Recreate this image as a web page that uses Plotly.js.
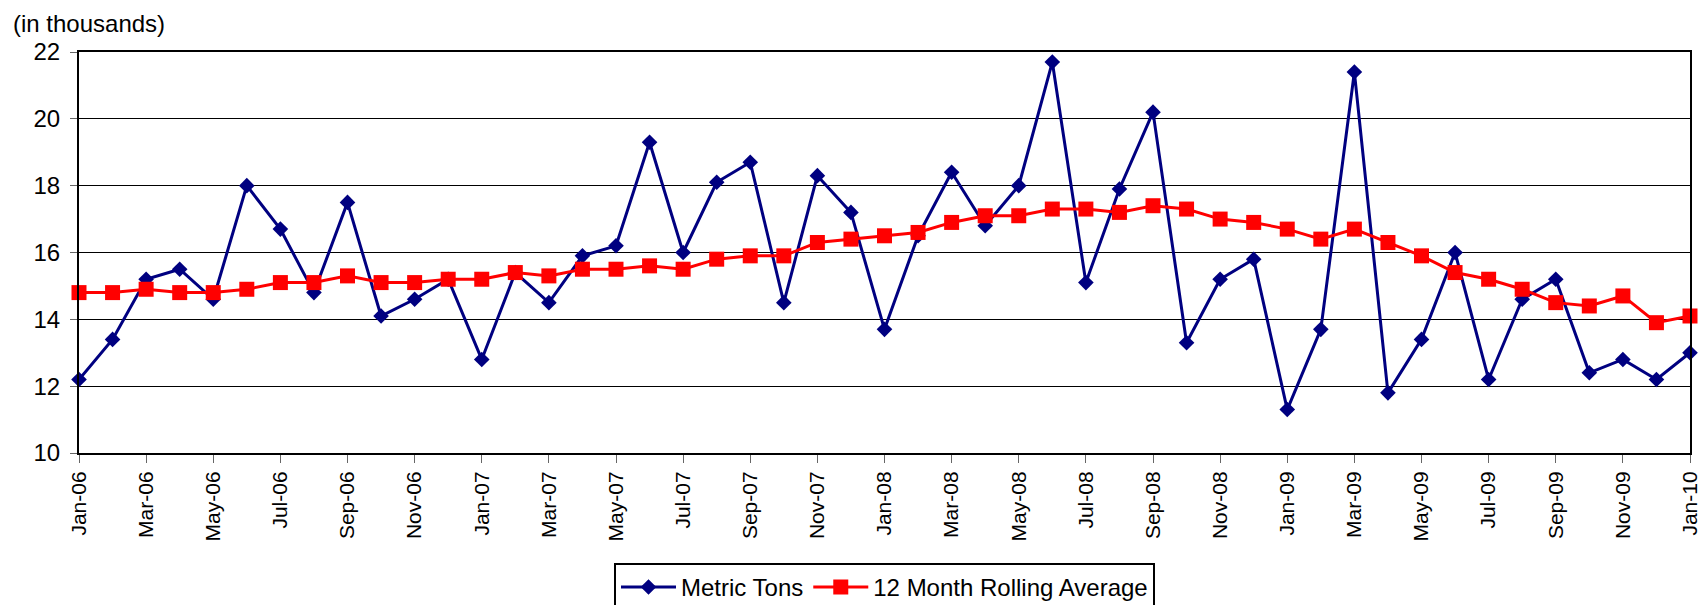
<!DOCTYPE html>
<html>
<head>
<meta charset="utf-8">
<script src="https://cdn.plot.ly/plotly-3.0.1.min.js"></script>
<style>
  html, body { margin: 0; padding: 0; background: #fff; }
  #chart { width: 1700px; height: 605px; }
</style>
</head>
<body>
<div id="chart"></div>
<script>
// Monthly labels, Jan-06 through Jan-10
const months = [
  "Jan-06","Feb-06","Mar-06","Apr-06","May-06","Jun-06","Jul-06","Aug-06","Sep-06","Oct-06","Nov-06","Dec-06",
  "Jan-07","Feb-07","Mar-07","Apr-07","May-07","Jun-07","Jul-07","Aug-07","Sep-07","Oct-07","Nov-07","Dec-07",
  "Jan-08","Feb-08","Mar-08","Apr-08","May-08","Jun-08","Jul-08","Aug-08","Sep-08","Oct-08","Nov-08","Dec-08",
  "Jan-09","Feb-09","Mar-09","Apr-09","May-09","Jun-09","Jul-09","Aug-09","Sep-09","Oct-09","Nov-09","Dec-09",
  "Jan-10"
];

// Monthly volume (thousands of metric tons)
const metricTons = [
  12.2, 13.4, 15.2, 15.5, 14.6, 18.0, 16.7, 14.8, 17.5, 14.1, 14.6, 15.2,
  12.8, 15.4, 14.5, 15.9, 16.2, 19.3, 16.0, 18.1, 18.7, 14.5, 18.3, 17.2,
  13.7, 16.5, 18.4, 16.8, 18.0, 21.7, 15.1, 17.9, 20.2, 13.3, 15.2, 15.8,
  11.3, 13.7, 21.4, 11.8, 13.4, 16.0, 12.2, 14.6, 15.2, 12.4, 12.8, 12.2,
  13.0
];

// 12 month rolling average (thousands of metric tons)
const rollingAvg = [
  14.8, 14.8, 14.9, 14.8, 14.8, 14.9, 15.1, 15.1, 15.3, 15.1, 15.1, 15.2,
  15.2, 15.4, 15.3, 15.5, 15.5, 15.6, 15.5, 15.8, 15.9, 15.9, 16.3, 16.4,
  16.5, 16.6, 16.9, 17.1, 17.1, 17.3, 17.3, 17.2, 17.4, 17.3, 17.0, 16.9,
  16.7, 16.4, 16.7, 16.3, 15.9, 15.4, 15.2, 14.9, 14.5, 14.4, 14.7, 13.9,
  14.1
];

// Every other month gets a tick label
const tickMonths = months.filter((m, i) => i % 2 === 0);

const FONT = "Arial, 'Liberation Sans', sans-serif";

const traces = [
  {
    x: months, y: metricTons, name: "Metric Tons",
    type: "scatter", mode: "lines+markers", cliponaxis: false,
    line: { color: "#000080", width: 3 },
    marker: { symbol: "diamond", size: 12, color: "#000080" }
  },
  {
    x: months, y: rollingAvg, name: "12 Month Rolling Average",
    type: "scatter", mode: "lines+markers", cliponaxis: false,
    line: { color: "#FF0000", width: 3 },
    marker: { symbol: "square", size: 15, color: "#FF0000" }
  }
];

const layout = {
  width: 1700, height: 605,
  margin: { l: 79, r: 10, t: 52, b: 152, autoexpand: false },
  paper_bgcolor: "#fff", plot_bgcolor: "#fff",
  font: { family: FONT, color: "#000" },
  showlegend: true,
  xaxis: {
    type: "category",
    range: [0, months.length - 1],
    tickmode: "array", tickvals: tickMonths, ticktext: tickMonths,
    tickangle: -90,
    tickfont: { family: FONT, size: 21, color: "#000" },
    ticks: "outside", ticklen: 8, tickwidth: 1, tickcolor: "#666",
    showgrid: false, zeroline: false, automargin: false,
    showline: true, mirror: true, linecolor: "#000", linewidth: 2
  },
  yaxis: {
    range: [10, 22], dtick: 2, tick0: 10,
    tickfont: { family: FONT, size: 24, color: "#000" },
    ticks: "outside", ticklen: 7, tickwidth: 1, tickcolor: "#666",
    ticklabelstandoff: 5,
    showgrid: true, gridcolor: "#000", gridwidth: 1,
    zeroline: false, automargin: false,
    showline: true, mirror: true, linecolor: "#000", linewidth: 2
  },
  legend: {
    orientation: "h",
    x: 0.5, xanchor: "center",
    y: -0.274, yanchor: "top",
    bordercolor: "#000", borderwidth: 2, bgcolor: "#fff",
    font: { family: FONT, size: 24, color: "#000" },
    itemwidth: 55,
    tracegroupgap: 0
  },
  annotations: [
    {
      text: "(in thousands)",
      xref: "paper", yref: "paper",
      x: -0.0422, y: 1.072, xanchor: "left", yanchor: "middle",
      showarrow: false,
      font: { family: FONT, size: 24, color: "#000" }
    }
  ]
};

Plotly.newPlot("chart", traces, layout, { displayModeBar: false, staticPlot: true });
</script>
</body>
</html>
